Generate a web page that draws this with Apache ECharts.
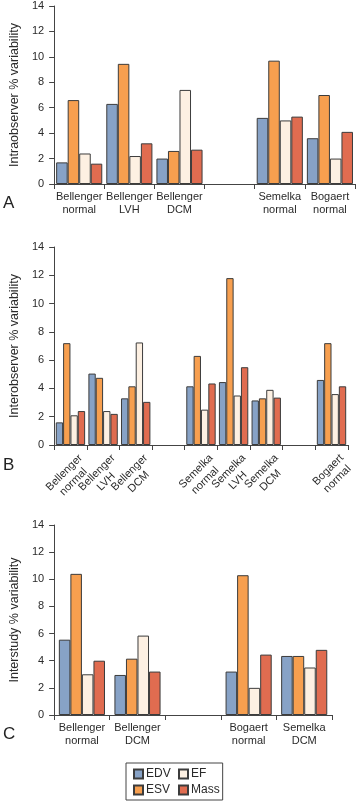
<!DOCTYPE html>
<html>
<head>
<meta charset="utf-8">
<script src="https://cdn.jsdelivr.net/npm/echarts@6/dist/echarts.min.js"></script>
<style>
html,body{margin:0;padding:0;background:#fff;}
#chart{width:356px;height:801px;}
</style>
</head>
<body>
<div id="chart"></div>
<script>
// ---- Data ----
var seriesNames = ['EDV', 'ESV', 'EF', 'Mass'];
var legendOrder = ['EDV', 'EF', 'ESV', 'Mass'];

var catsA = ['Bellenger\nnormal', 'Bellenger\nLVH', 'Bellenger\nDCM', '', 'Semelka\nnormal', 'Bogaert\nnormal'];
var aEDV  = [1.7, 6.3, 2.0, null, 5.2, 3.6];
var aESV  = [6.6, 9.45, 2.6, null, 9.7, 7.0];
var aEF   = [2.4, 2.2, 7.4, null, 5.0, 2.0];
var aMass = [1.6, 3.2, 2.7, null, 5.3, 4.1];

var catsB = ['Bellenger\nnormal', 'Bellenger\nLVH', 'Bellenger\nDCM', '', 'Semelka\nnormal', 'Semelka\nLVH', 'Semelka\nDCM', '', 'Bogaert\nnormal'];
var bEDV  = [1.6, 5.05, 3.3, null, 4.15, 4.45, 3.15, null, 4.6];
var bESV  = [7.2, 4.75, 4.15, null, 6.3, 11.8, 3.3, null, 7.2];
var bEF   = [2.1, 2.4, 7.25, null, 2.5, 3.5, 3.9, null, 3.6];
var bMass = [2.4, 2.2, 3.05, null, 4.35, 5.5, 3.35, null, 4.15];

var catsC = ['Bellenger\nnormal', 'Bellenger\nDCM', '', 'Bogaert\nnormal', 'Semelka\nDCM'];
var cEDV  = [5.55, 2.95, null, 3.2, 4.35];
var cESV  = [10.4, 4.15, null, 10.3, 4.35];
var cEF   = [3.0, 5.85, null, 2.0, 3.5];
var cMass = [4.0, 3.2, null, 4.45, 4.8];

var yTitles = ['Intraobserver % variability', 'Interobserver % variability', 'Interstudy % variability'];
var panelLetters = ['A', 'B', 'C'];

// ---- Style ----
var FONT = "'Liberation Sans', Arial, Helvetica, sans-serif";
var colors = {EDV: '#87a2c6', ESV: '#f79f4f', EF: '#fdf0e2', Mass: '#e06c50'};
var AX = '#444';
var TXT = '#2a2a2a';

var chart = echarts.init(document.getElementById('chart'), null, {renderer: 'canvas'});

var grids = [
  {left: 45, top: 6, width: 310, height: 178},
  {left: 45, top: 247, width: 311, height: 198},
  {left: 45, top: 525, width: 287, height: 190}
];
var cats = [catsA, catsB, catsC];
var data = [
  {EDV: aEDV, ESV: aESV, EF: aEF, Mass: aMass},
  {EDV: bEDV, ESV: bESV, EF: bEF, Mass: bMass},
  {EDV: cEDV, ESV: cESV, EF: cEF, Mass: cMass}
];
var catGaps = ['8%', '10%', '17%'];

function richLines(v) {
  if (!v) return '';
  return v.split('\n').map(function (s) { return '{c|' + s + '}'; }).join('\n');
}

var xAxes = [], yAxes = [], series = [];
for (var i = 0; i < 3; i++) {
  var rotated = (i === 1);
  xAxes.push({
    type: 'category', gridIndex: i, data: cats[i],
    axisLine: {lineStyle: {color: AX, width: 1}},
    axisTick: {show: true, length: 5, lineStyle: {color: AX}},
    axisLabel: rotated ? {
      interval: 0, rotate: 45, margin: 1, verticalAlign: 'top',
      padding: [8, 0, 0, 0],
      formatter: richLines,
      rich: {c: {align: 'center', fontSize: 11, lineHeight: 13, color: TXT, fontFamily: FONT}}
    } : {
      interval: 0, margin: 6, fontSize: 11, lineHeight: 13, color: TXT, fontFamily: FONT
    }
  });
  yAxes.push({
    type: 'value', gridIndex: i, min: 0, max: 14, interval: 2,
    name: yTitles[i], nameLocation: 'middle', nameGap: 29,
    nameTextStyle: {fontSize: 12.5, color: TXT, fontFamily: FONT},
    axisLine: {show: true, lineStyle: {color: AX, width: 1}},
    axisTick: {show: true, length: 5, lineStyle: {color: AX}},
    axisLabel: {margin: 10, fontSize: 11, color: TXT, fontFamily: FONT},
    splitLine: {show: false}
  });
  seriesNames.forEach(function (n) {
    series.push({
      name: n, type: 'bar', xAxisIndex: i, yAxisIndex: i,
      data: data[i][n],
      barGap: '0%', barCategoryGap: catGaps[i],
      itemStyle: {color: colors[n], borderColor: '#3c3c3c', borderWidth: 1},
      emphasis: {disabled: true},
      animation: false
    });
  });
}

var letterY = [204, 466, 735];
var graphics = panelLetters.map(function (L, k) {
  return {
    type: 'text', left: 3, top: letterY[k] - 9,
    style: {text: L, font: '17px ' + FONT, fill: '#222'}
  };
});

chart.setOption({
  animation: false,
  textStyle: {fontFamily: FONT},
  grid: grids,
  xAxis: xAxes,
  yAxis: yAxes,
  series: series,
  legend: {
    data: legendOrder, orient: 'horizontal',
    left: 126, top: 763, width: 100,
    itemWidth: 9, itemHeight: 9, itemGap: 4,
    padding: [5, 3, 4, 7],
    borderColor: '#444', borderWidth: 1,
    selectedMode: false,
    icon: 'rect',
    textStyle: {fontSize: 12, color: TXT, fontFamily: FONT, width: 28, lineHeight: 12, padding: [0, 0, 0, -2]}
  },
  graphic: graphics
});
</script>
</body>
</html>
